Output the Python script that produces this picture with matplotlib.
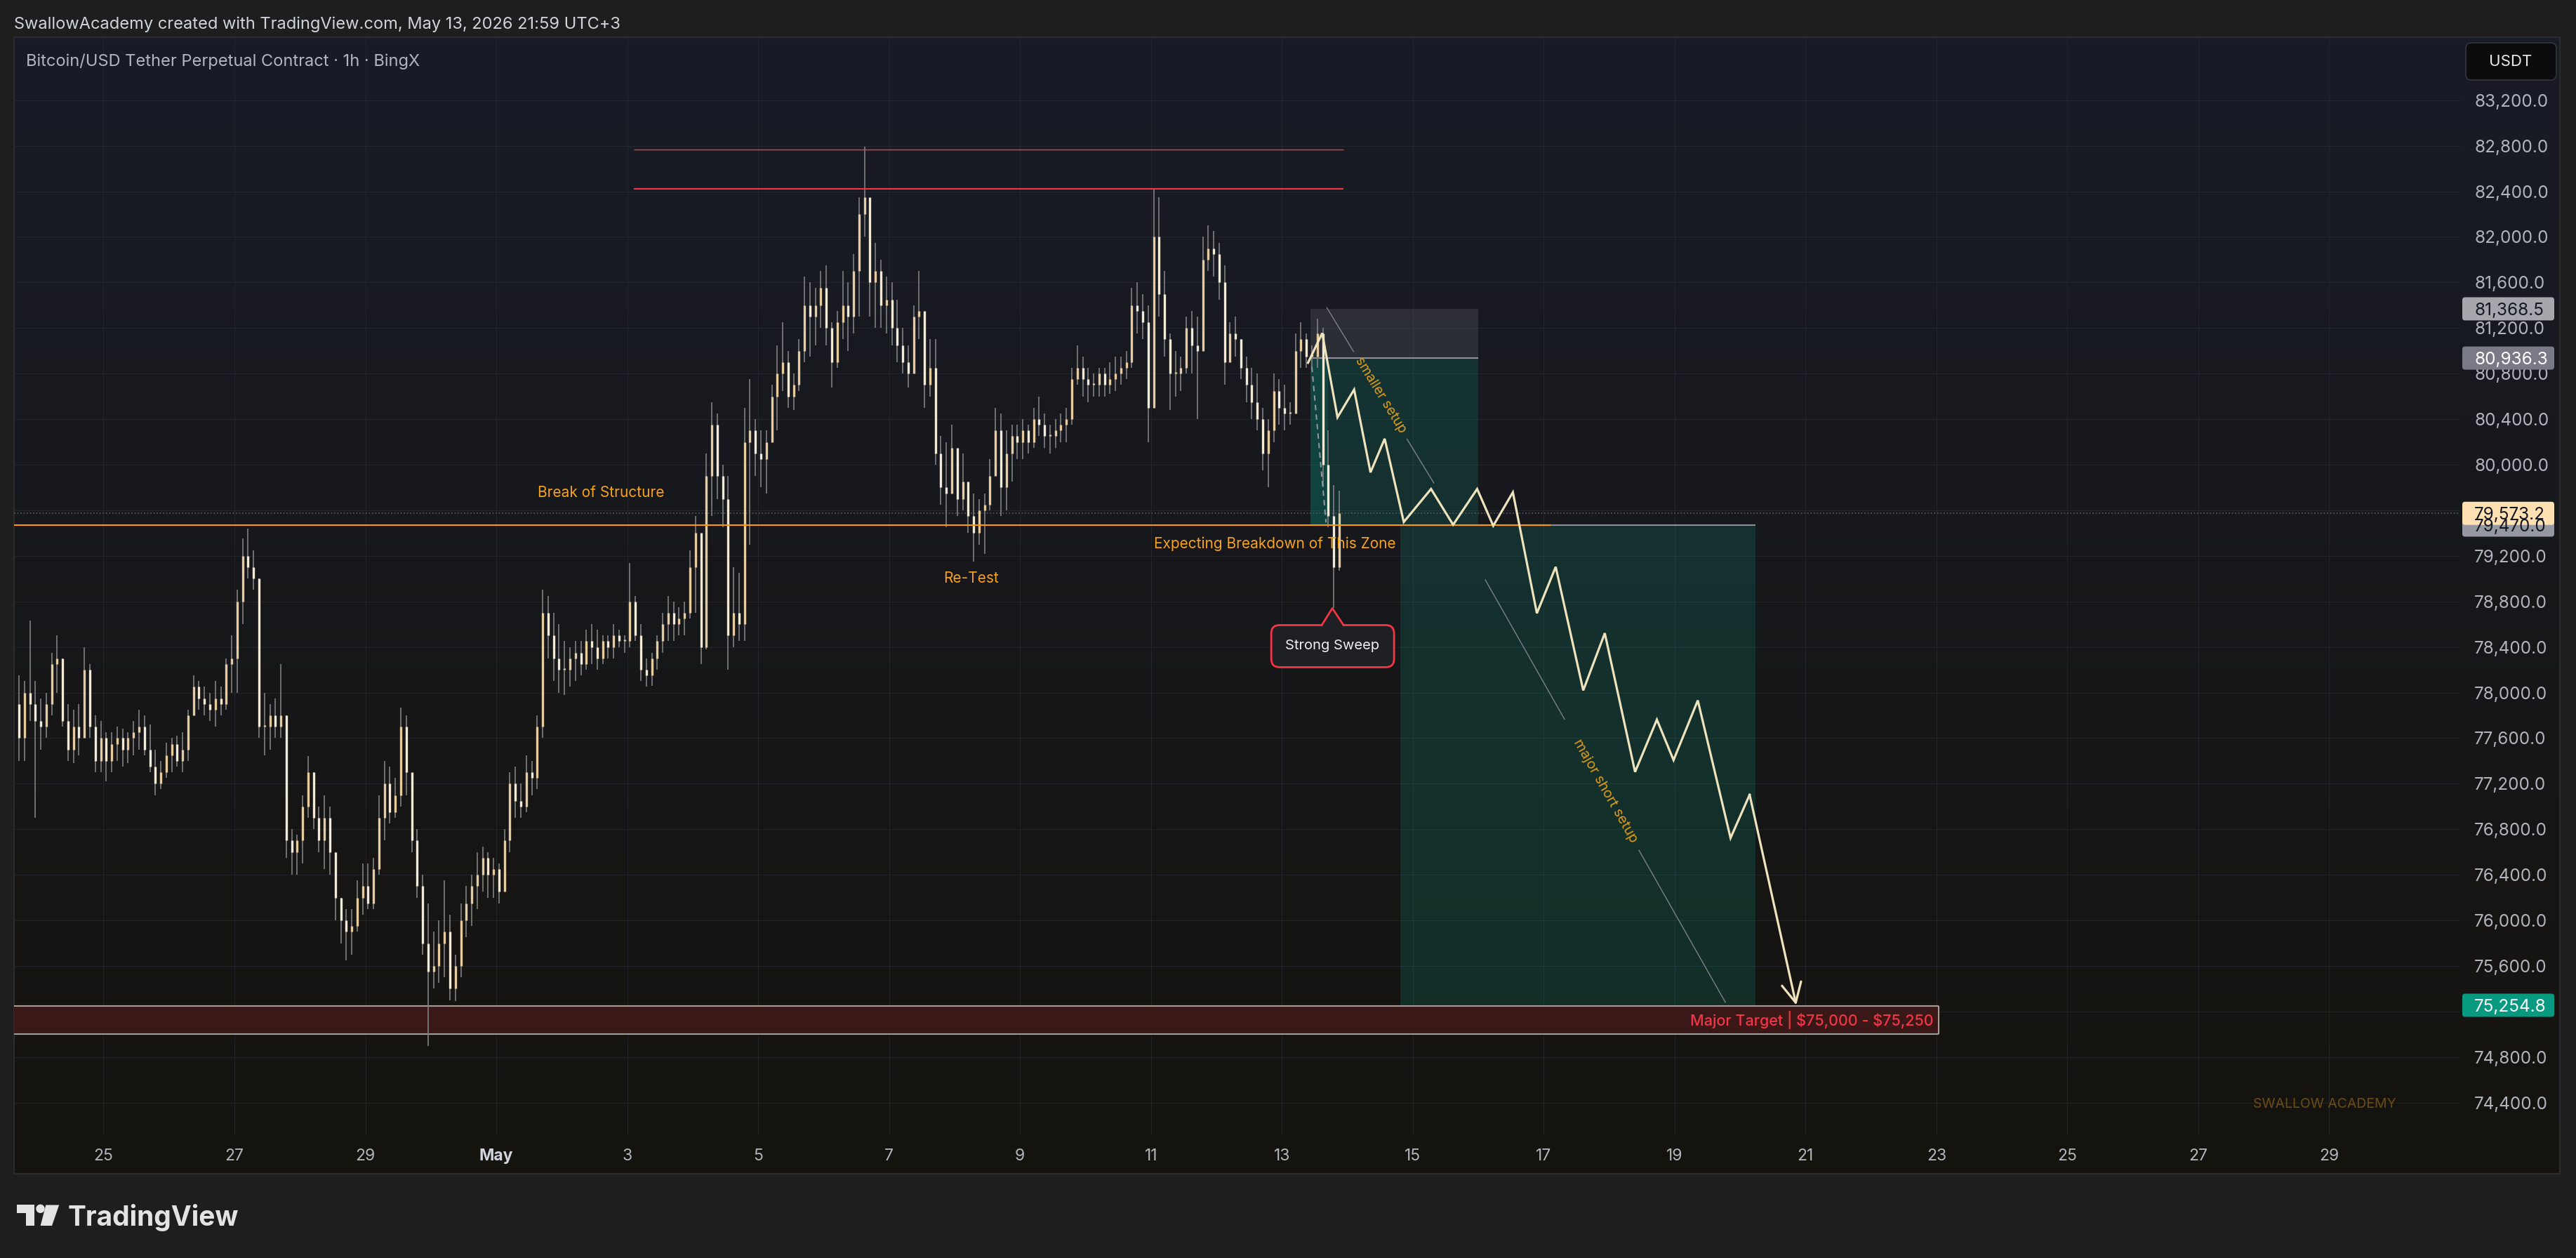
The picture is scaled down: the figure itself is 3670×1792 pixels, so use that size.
import matplotlib
matplotlib.use('Agg')
import matplotlib.pyplot as plt
import matplotlib.dates as mdates
import matplotlib.colors as mcolors
from matplotlib.patches import Rectangle, FancyBboxPatch, Polygon, Circle
import numpy as np
import pandas as pd

plt.rcParams['font.family'] = ['Inter', 'DejaVu Sans']

W, H = 3670, 1792

# ---------------- data (2h bars) ----------------
bar_start = '2026-04-23 16:00'
first_open = 77900
highs = [
    78150, 78100, 78630, 78100, 77950, 78000, 78350, 78500, 78300, 77900,
    77850, 77900, 78400, 78250, 77800, 77750, 77650, 77650, 77700, 77680,
    77650, 77750, 77850, 77800, 77720, 77500, 77400, 77560, 77600, 77620,
    77650, 77850, 78150, 78100, 78050, 78000, 78100, 78050, 78300, 78500,
    78900, 79350, 79440, 79250, 79000, 78000, 77900, 77950, 78250, 77800,
    76800, 76750, 77100, 77440, 77300, 77000, 77100, 77000, 76600, 76200,
    76100, 76100, 76350, 76500, 76500, 76550, 77100, 77400, 77350, 77250,
    77870, 77800, 77250, 76800, 76400, 76150, 75900, 76000, 76350, 76050,
    75700, 76150, 76300, 76400, 76600, 76650, 76600, 76550, 76500, 76800,
    77300, 77350, 77200, 77450, 77400, 77800, 78900, 78850, 78700, 78600,
    78450, 78400, 78450, 78450, 78550, 78600, 78550, 78500, 78500, 78600,
    78550, 78500, 79140, 78850, 78600, 78300, 78350, 78500, 78700, 78850,
    78800, 78750, 78800, 79250, 79550, 79350, 80100, 80550, 80450, 80000,
    79900, 79100, 79050, 80500, 80750, 80400, 80300, 80300, 80700, 81050,
    81250, 81000, 80800, 81100, 81650, 81600, 81550, 81700, 81750, 81250,
    81350, 81700, 81600, 81850, 82350, 82790, 82150, 81950, 81800, 81650,
    81600, 81450, 81200, 81050, 81400, 81700, 81250, 81100, 81100, 80250,
    80200, 80350, 80050, 80100, 79750, 79750, 79700, 79750, 80050, 80500,
    80450, 80300, 80350, 80350, 80400, 80350, 80500, 80600, 80450, 80350,
    80400, 80450, 80500, 80850, 81050, 80950, 80850, 80800, 80850, 80850,
    80900, 80950, 80950, 81000, 81550, 81600, 81500, 81400, 82420, 82350,
    81700, 81150, 81000, 80950, 81300, 81350, 81300, 82000, 82100, 82050,
    81950, 81750, 81250, 81300, 81100, 80950, 80850, 80800, 80500, 80400,
    80800, 80750, 80700, 80550, 81150, 81250, 81150, 81050, 81280, 81200,
    80300, 79820, 79770,
]
lows = [
    77400, 77400, 77750, 76900, 77500, 77600, 77800, 78000, 77700, 77400,
    77380, 77450, 77700, 77600, 77300, 77300, 77220, 77300, 77400, 77350,
    77380, 77450, 77500, 77450, 77300, 77100, 77150, 77250, 77300, 77350,
    77300, 77400, 77800, 77850, 77800, 77750, 77700, 77800, 77850, 78000,
    78000, 78600, 79000, 78900, 77600, 77450, 77500, 77600, 77600, 76550,
    76400, 76400, 76500, 76900, 76800, 76600, 76450, 76400, 76000, 75800,
    75650, 75700, 75900, 76050, 76100, 76100, 76400, 76700, 76850, 76900,
    77000, 77100, 76600, 76200, 75700, 74900, 75400, 75450, 75500, 75300,
    75290, 75500, 75850, 75950, 76100, 76250, 76200, 76200, 76150, 76300,
    76600, 76900, 76900, 76950, 77100, 77150, 77600, 78300, 78100, 78000,
    77980, 78050, 78100, 78150, 78200, 78250, 78200, 78250, 78300, 78300,
    78400, 78350, 78400, 78450, 78100, 78050, 78060, 78200, 78350, 78450,
    78450, 78500, 78500, 78650, 78700, 78250, 78380, 79550, 79700, 79450,
    78200, 78400, 78450, 78450, 79300, 79900, 79800, 79750, 80200, 80300,
    80650, 80500, 80480, 80650, 80900, 80950, 81050, 81200, 81050, 80680,
    80850, 81100, 81000, 81150, 81300, 82000, 81300, 81200, 81200, 81150,
    81050, 80900, 80800, 80680, 80800, 81100, 80500, 80600, 80000, 79650,
    79450, 79800, 79550, 79600, 79400, 79150, 79300, 79220, 79600, 79900,
    79550, 79600, 79850, 80050, 80050, 80100, 80150, 80250, 80150, 80100,
    80150, 80200, 80200, 80350, 80700, 80600, 80550, 80600, 80600, 80600,
    80620, 80650, 80700, 80750, 80850, 81150, 81100, 80200, 80600, 81300,
    80950, 80480, 80600, 80650, 80800, 80800, 80400, 81000, 81700, 81650,
    81450, 80700, 80950, 80950, 80750, 80550, 80400, 80300, 79950, 79800,
    80200, 80350, 80300, 80350, 80450, 80850, 80850, 80850, 80850, 79800,
    79450, 78740, 79070,
]
closes = [
    77600, 78000, 77900, 77750, 77700, 77900, 78250, 78300, 77750, 77500,
    77700, 77600, 78200, 77700, 77400, 77600, 77400, 77550, 77600, 77500,
    77600, 77650, 77700, 77500, 77350, 77200, 77300, 77450, 77550, 77400,
    77500, 77800, 78050, 77950, 77900, 77850, 77950, 77900, 78250, 78300,
    78800, 79200, 79100, 79000, 77700, 77700, 77800, 77700, 77800, 76700,
    76600, 76700, 77000, 77300, 76900, 76700, 76900, 76600, 76200, 76000,
    75900, 75950, 76200, 76300, 76150, 76450, 76900, 77200, 76950, 77100,
    77700, 77300, 76700, 76300, 75800, 75550, 75600, 75800, 75900, 75400,
    75600, 76000, 76150, 76300, 76400, 76550, 76400, 76450, 76250, 76700,
    77200, 77050, 77000, 77300, 77250, 77700, 78700, 78500, 78300, 78200,
    78200, 78300, 78350, 78250, 78450, 78400, 78300, 78450, 78400, 78500,
    78450, 78450, 78800, 78500, 78200, 78150, 78300, 78450, 78600, 78700,
    78600, 78650, 78700, 79100, 79400, 78400, 79900, 80350, 79900, 79700,
    78500, 78700, 78600, 80200, 80300, 80100, 80050, 80200, 80600, 80800,
    80900, 80600, 80700, 81000, 81400, 81300, 81400, 81550, 81200, 80900,
    81250, 81400, 81300, 81700, 82200, 82350, 81600, 81700, 81400, 81450,
    81200, 81050, 80900, 80800, 81300, 81350, 80700, 80850, 80100, 79800,
    79750, 80150, 79700, 79850, 79550, 79400, 79600, 79650, 79900, 80300,
    79800, 80100, 80250, 80200, 80300, 80200, 80400, 80350, 80250, 80250,
    80300, 80350, 80400, 80750, 80850, 80750, 80700, 80700, 80800, 80700,
    80750, 80800, 80850, 80900, 81400, 81350, 81250, 80500, 82000, 81500,
    81100, 80800, 80800, 80850, 81200, 81050, 81000, 81800, 81900, 81850,
    81600, 80900, 81150, 81100, 80850, 80700, 80550, 80400, 80100, 80300,
    80650, 80500, 80450, 80450, 81000, 81100, 80950, 80950, 81150, 80000,
    79550, 79100, 79573.2,
]

price_ticks = list(range(74400, 83201, 400))
hidden_ticks = [79600, 75200]   # covered by price labels on the reference
date_ticks = ['2026-04-25', '2026-04-27', '2026-04-29', '2026-05-01', '2026-05-03',
              '2026-05-05', '2026-05-07', '2026-05-09', '2026-05-11', '2026-05-13',
              '2026-05-15', '2026-05-17', '2026-05-19', '2026-05-21', '2026-05-23',
              '2026-05-25', '2026-05-27', '2026-05-29']
date_labels = ['25', '27', '29', 'May', '3', '5', '7', '9', '11', '13',
               '15', '17', '19', '21', '23', '25', '27', '29']
x_left, x_right = '2026-04-23 15:12', '2026-05-31 00:00'

# drawings
bos_level, bos_end = 79467, '2026-05-17 02:36'
top_levels = [82767, 82421]
top_start, top_end = '2026-05-03 02:30', '2026-05-13 22:42'
zone_low, zone_high, zone_end = 75000, 75250, '2026-05-23 00:48'
last_price = 79573.2

small_start, small_end, small_progress = '2026-05-13 10:24', '2026-05-16 00:00', '2026-05-13 17:00'
small_stop, small_entry, small_target = 81368.5, 80936.3, 79470.0
major_start, major_end = '2026-05-14 19:30', '2026-05-20 05:36'
major_entry, major_target = 79470.0, 75254.8

path_times = ['2026-05-13 09:36', '2026-05-13 14:48', '2026-05-13 20:24', '2026-05-14 02:30',
              '2026-05-14 08:30', '2026-05-14 13:42', '2026-05-14 20:42', '2026-05-15 06:42',
              '2026-05-15 14:48', '2026-05-15 23:36', '2026-05-16 05:30', '2026-05-16 12:42',
              '2026-05-16 21:30', '2026-05-17 04:24', '2026-05-17 14:30', '2026-05-17 22:24',
              '2026-05-18 09:30', '2026-05-18 17:30', '2026-05-18 23:36', '2026-05-19 08:30',
              '2026-05-19 20:30', '2026-05-20 03:30', '2026-05-20 20:36']
path_prices = [80895, 81155, 80416, 80660, 79933, 80228, 79497, 79787, 79473, 79787, 79464,
               79758, 78696, 79103, 78019, 78521, 77303, 77762, 77407, 77931, 76723, 77103,
               75256]

small_line = [('2026-05-13 16:30', 81378), ('2026-05-15 07:42', 79840)]
major_line = [('2026-05-16 02:36', 78989), ('2026-05-19 18:36', 75281)]
trade_path = [('2026-05-13 11:00', 80860), ('2026-05-13 16:12', 79493)]

sweep_time, sweep_low = '2026-05-13 18:30', 78740
notes = [('Break of Structure', '2026-05-02 14:30', 79752),
         ('Re-Test', '2026-05-08 06:00', 79002),
         ('Expecting Breakdown of This Zone', '2026-05-12 21:24', 79305)]

price_labels = [(81368.5, '#a5a7ad', '#131722'),
                (80936.3, '#787b86', '#ffffff'),
                (79470.0, '#9598a1', '#131722'),
                (79573.2, '#ffe0b2', '#131722'),
                (75254.8, '#089981', '#ffffff')]


def T(s):
    return mdates.date2num(pd.Timestamp(s).to_pydatetime())


# ---------------- figure ----------------
fig = plt.figure(figsize=(W / 100, H / 100), dpi=100, facecolor='#1e1e1e')

bg = fig.add_axes([0, 0, 1, 1], zorder=0)
bg.set_axis_off()
c_top = np.array(mcolors.to_rgb('#191c27'))
c_bot = np.array(mcolors.to_rgb('#15130e'))
f = np.linspace(0, 1, 256)[:, None, None]
bg.imshow(c_top * (1 - f) + c_bot * f, extent=(20, 3647, 1672, 53), aspect='auto')
bg.add_patch(Rectangle((20, 53), 3627, 1619, fill=False, ec='#2c2c2e', lw=1.5))
bg.set_xlim(0, W)
bg.set_ylim(H, 0)

ax = fig.add_axes([20 / W, 1 - 1617 / H, 3485 / W, 1564 / H], zorder=1)
ax.patch.set_alpha(0)
for s in ax.spines.values():
    s.set_visible(False)
ax.set_xlim(T(x_left), T(x_right))
ax.set_ylim(74114.5, 83753)

ax.set_xticks([T(d) for d in date_ticks])
ax.set_xticklabels(date_labels)
ax.yaxis.tick_right()
ax.set_yticks(price_ticks)
ax.set_yticklabels(['' if p in hidden_ticks else f'{p:,.1f}' for p in price_ticks])
ax.tick_params(axis='x', length=0, pad=14, labelsize=16.5, labelcolor='#b2b5be')
ax.tick_params(axis='y', length=0, pad=14.5, labelsize=17.5, labelcolor='#b2b5be')
may = ax.get_xticklabels()[3]
may.set_fontweight('bold')
may.set_color('#d1d4dc')
ax.grid(True, color='#2b2e37', lw=0.8, alpha=0.6)
ax.set_axisbelow(True)

xl, xr = ax.get_xlim()

# positions (zones)
ax.fill_between([T(small_start), T(small_end)], small_entry, small_stop,
                color='#787b86', alpha=0.22, lw=0, zorder=1)
ax.fill_between([T(small_start), T(small_end)], small_target, small_entry,
                color='#089981', alpha=0.2, lw=0, zorder=1)
ax.fill_between([T(small_start), T(small_progress)], small_target, small_entry,
                color='#089981', alpha=0.18, lw=0, zorder=1)
ax.hlines(small_entry, T(small_start), T(small_end), colors='#8d9099', lw=1.5, zorder=1.2)
ax.fill_between([T(major_start), T(major_end)], major_target, major_entry,
                color='#089981', alpha=0.2, lw=0, zorder=1)
ax.hlines(major_entry, T(major_start), T(major_end), colors='#8d9099', lw=1.5, zorder=1.2)

# major target zone
ax.fill_between([xl, T(zone_end)], zone_low, zone_high, color='#3a1818', lw=0, zorder=1.1)
ax.hlines([zone_low, zone_high], xl, T(zone_end), colors='#a39e98', lw=1.5, zorder=1.3)
ax.vlines(T(zone_end), zone_low, zone_high, colors='#a39e98', lw=1.5, zorder=1.3)
ax.annotate('Major Target | \\$75,000 - \\$75,250', (T(zone_end), (zone_low + zone_high) / 2),
            xytext=(-5, 0), textcoords='offset points', ha='right', va='center',
            fontsize=15.5, color='#f23645', fontweight='medium', zorder=6)

# current price dotted line
ax.axhline(last_price, color='#50535c', lw=1.3, ls=(0, (1, 1.5)), zorder=1.4)

# bars
opens = [first_open] + closes[:-1]
times = pd.date_range(bar_start, periods=len(closes), freq='2h') + pd.Timedelta('1h')
bx = mdates.date2num(times.to_pydatetime())
o = np.array(opens, float)
c = np.array(closes, float)
lo = np.minimum(o, c)
hi = np.maximum(np.maximum(o, c), lo + 15)
up = c >= o
ax.vlines(bx, lows, highs, colors='#808082', lw=1.2, zorder=2)
ax.vlines(bx[up], lo[up], hi[up], colors='#e6cba0', lw=2.4, zorder=2.1)
ax.vlines(bx[~up], lo[~up], hi[~up], colors='#f2ead6', lw=2.4, zorder=2.1)

# horizontal levels
ax.hlines(bos_level, xl, T(bos_end), colors='#ff9800', lw=1.5, zorder=3)
ax.hlines(top_levels[0], T(top_start), T(top_end), colors='#f23645', lw=1.0, zorder=3)
ax.hlines(top_levels[1], T(top_start), T(top_end), colors='#f23645', lw=1.5, zorder=3)

# trade path (dashed)
ax.plot([T(t) for t, _ in trade_path], [p for _, p in trade_path],
        color='#9598a1', lw=1.4, ls=(0, (4, 3)), zorder=3)

# projected zigzag
px = [T(t) for t in path_times]
ax.plot(px[:-1], path_prices[:-1], color='#efe3bd', lw=2.3, solid_joinstyle='miter', zorder=4)
ax.annotate('', xy=(px[-1], path_prices[-1]), xytext=(px[-2], path_prices[-2]),
            arrowprops=dict(arrowstyle='->,head_length=1.0,head_width=0.5',
                            color='#efe3bd', lw=2.3, mutation_scale=20,
                            shrinkA=0, shrinkB=0), zorder=4)


def labelled_line(pts, text, gap, size):
    (t0, p0), (t1, p1) = pts
    a = np.array([T(t0), p0])
    b = np.array([T(t1), p1])
    g0 = a + (b - a) * gap[0]
    g1 = a + (b - a) * gap[1]
    ax.plot([a[0], g0[0]], [a[1], g0[1]], color='#7d8189', lw=1.0, zorder=3)
    ax.plot([g1[0], b[0]], [g1[1], b[1]], color='#7d8189', lw=1.0, zorder=3)
    sa = ax.transData.transform(a)
    sb = ax.transData.transform(b)
    ang = np.degrees(np.arctan2(sb[1] - sa[1], sb[0] - sa[0]))
    mid = (a + b) / 2
    ax.text(mid[0], mid[1], text, rotation=ang, rotation_mode='anchor', ha='center',
            va='center', fontsize=size, color='#dc9b1e', zorder=5)


labelled_line(small_line, 'smaller setup', (0.25, 0.75), 14)
labelled_line(major_line, 'major short setup', (0.33, 0.64), 14.5)

for txt, t, p in notes:
    ax.text(T(t), p, txt, ha='center', va='center', fontsize=15, color='#f7a21b', zorder=5)

ax.text(0.9446, 0.0281, 'SWALLOW ACADEMY', transform=ax.transAxes, ha='center',
        va='center', fontsize=14, color='#6b4c15', zorder=5)

# ---------------- overlay (pixel coordinates) ----------------
fg = fig.add_axes([0, 0, 1, 1], zorder=2)
fg.set_axis_off()
fg.set_xlim(0, W)
fg.set_ylim(H, 0)


def to_px(t, p):
    d = ax.transData.transform((T(t), p))
    return d[0], H - d[1]


for price, fc, tc in price_labels:
    _, y = to_px(x_left, price)
    fg.add_patch(FancyBboxPatch((3508, y - 16.5), 131, 33,
                                boxstyle='round,pad=0,rounding_size=4', fc=fc, ec='none'))
    fg.text(3525, y, f'{price:,.1f}', ha='left', va='center_baseline', fontsize=17.5, color=tc)

fg.add_patch(FancyBboxPatch((3513, 61), 129, 53, boxstyle='round,pad=0,rounding_size=8',
                            fc='#0c0c0e', ec='#34363d', lw=1.2))
fg.text(3577, 88, 'USDT', ha='center', va='center', fontsize=16, color='#e8e8e8')

# strong sweep callout
tx, ty = to_px(sweep_time, sweep_low)
fg.add_patch(FancyBboxPatch((tx - 87, ty + 24), 175, 60, boxstyle='round,pad=0,rounding_size=12',
                            fc='#1f2024', ec='#f23645', lw=2))
fg.add_patch(Polygon([(tx - 15, ty + 26), (tx, ty + 1), (tx + 16, ty + 26)], closed=True,
                     fc='#1f2024', ec='none'))
fg.plot([tx - 15, tx, tx + 16], [ty + 24, ty, ty + 24], color='#f23645', lw=2)
fg.text(tx, ty + 54, 'Strong Sweep', ha='center', va='center', fontsize=14.5, color='#f0f0f0')

# header and title
fg.text(20, 40.7, 'SwallowAcademy created with TradingView.com, May 13, 2026 21:59 UTC+3',
        ha='left', va='baseline', fontsize=17, color='#d1d4dc')
fg.text(37, 94, 'Bitcoin/USD Tether Perpetual Contract \u00b7 1h \u00b7 BingX',
        ha='left', va='baseline', fontsize=17, color='#b2b5be')

# TradingView logo
logo = '#e3e3e3'
fg.add_patch(Rectangle((24, 1716), 24.5, 12.3, fc=logo, ec='none'))
fg.add_patch(Rectangle((36.7, 1716), 11.8, 30, fc=logo, ec='none'))
fg.add_patch(Circle((57.5, 1721.8), 6.2, fc=logo, ec='none'))
fg.add_patch(Polygon([(65.3, 1716.5), (84.2, 1716.5), (74, 1746), (57.7, 1746)], fc=logo, ec='none'))
fg.text(97, 1746.5, 'TradingView', ha='left', va='baseline', fontsize=28,
        fontweight='bold', color=logo)

fig.savefig('out.png', dpi=100, facecolor=fig.get_facecolor())
